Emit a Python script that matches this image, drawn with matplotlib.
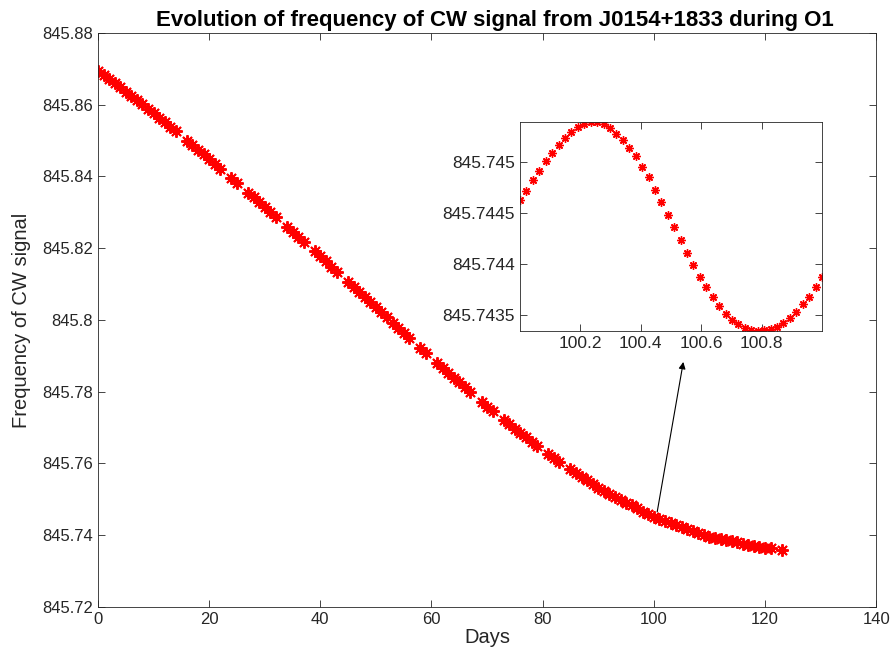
import numpy as np
import matplotlib
matplotlib.use("Agg")
import matplotlib.pyplot as plt
from matplotlib.ticker import FuncFormatter

plt.rcParams['font.family'] = ['Liberation Sans', 'DejaVu Sans']

# daily frequency, days 0..123
days = list(range(0, 124))
freq = [
    845.8695, 845.8683, 845.8671, 845.8660, 845.8648, 845.8636, 845.8624, 845.8612, 845.8601, 845.8589,
    845.8577, 845.8564, 845.8551, 845.8539, 845.8526, 845.8513, 845.8500, 845.8487, 845.8475, 845.8462,
    845.8449, 845.8436, 845.8422, 845.8409, 845.8395, 845.8382, 845.8369, 845.8355, 845.8342, 845.8328,
    845.8315, 845.8301, 845.8287, 845.8274, 845.8260, 845.8246, 845.8232, 845.8218, 845.8205, 845.8191,
    845.8177, 845.8163, 845.8149, 845.8134, 845.8120, 845.8106, 845.8092, 845.8078, 845.8063, 845.8049,
    845.8035, 845.8021, 845.8007, 845.7992, 845.7978, 845.7964, 845.7950, 845.7936, 845.7921, 845.7907,
    845.7893, 845.7880, 845.7866, 845.7853, 845.7839, 845.7826, 845.7812, 845.7799, 845.7785, 845.7772,
    845.7758, 845.7746, 845.7734, 845.7721, 845.7709, 845.7697, 845.7685, 845.7673, 845.7660, 845.7648,
    845.7636, 845.7626, 845.7615, 845.7605, 845.7594, 845.7584, 845.7574, 845.7563, 845.7553, 845.7542,
    845.7532, 845.7524, 845.7516, 845.7507, 845.7499, 845.7491, 845.7483, 845.7475, 845.7466, 845.7458,
    845.7450, 845.7445, 845.7439, 845.7434, 845.7428, 845.7423, 845.7417, 845.7412, 845.7406, 845.7401,
    845.7395, 845.7392, 845.7389, 845.7386, 845.7383, 845.7380, 845.7377, 845.7374, 845.7371, 845.7368,
    845.7365, 845.7364, 845.7362, 845.7360,
]
# days with no data (gaps in the run)
gap_days = [15, 23, 26, 33, 38, 44, 57, 60, 68, 72, 80, 84, 122]

# zoom on one day (inset)
inset_days = [
    100.000, 100.021, 100.043, 100.064, 100.085, 100.106, 100.128, 100.149, 100.170, 100.191,
    100.213, 100.234, 100.255, 100.277, 100.298, 100.319, 100.340, 100.362, 100.383, 100.404,
    100.426, 100.447, 100.468, 100.489, 100.511, 100.532, 100.553, 100.574, 100.596, 100.617,
    100.638, 100.660, 100.681, 100.702, 100.723, 100.745, 100.766, 100.787, 100.809, 100.830,
    100.851, 100.872, 100.894, 100.915, 100.936, 100.957, 100.979, 101.000,
]
inset_freq = [
    845.744624, 845.744719, 845.744824, 845.744915, 845.745013, 845.745095, 845.745173, 845.745235,
    845.745297, 845.745350, 845.745379, 845.745395, 845.745395, 845.745379, 845.745340, 845.745281,
    845.745219, 845.745141, 845.745059, 845.744954, 845.744850, 845.744725, 845.744605, 845.744480,
    845.744359, 845.744232, 845.744108, 845.743987, 845.743876, 845.743771, 845.743676, 845.743585,
    845.743510, 845.743448, 845.743405, 845.743366, 845.743350, 845.743340, 845.743350, 845.743359,
    845.743379, 845.743418, 845.743467, 845.743529, 845.743601, 845.743676, 845.743771, 845.743869,
]

d = np.array(days, dtype=float)
f = np.array(freq)
keep = ~np.isin(d, gap_days)

# matlab-like asterisk: 8 spokes
ast = (8, 2, 0)

fig = plt.figure(figsize=(8.93, 6.59), dpi=100)
ax = fig.add_axes([0.1097, 0.0789, 0.8715, 0.8711])

ax.plot(d[keep], f[keep], linestyle='none', marker=ast, color='red',
        markersize=9, markeredgewidth=1.4)
ax.set_xlim(0, 140)
ax.set_ylim(845.72, 845.88)
ax.set_xticks(range(0, 141, 20))
ax.set_yticks(np.arange(845.72, 845.8801, 0.02))

fmt = FuncFormatter(lambda v, p: f'{v:.7g}')

def matlab_style(a, fs):
    a.tick_params(direction='in', top=True, right=True, length=5, width=0.6,
                  colors='#262626', labelsize=fs)
    for s in a.spines.values():
        s.set_color('#262626')
        s.set_linewidth(0.6)

matlab_style(ax, 12)
ax.yaxis.set_major_formatter(fmt)
ax.set_xlabel('Days', fontsize=14.5, color='#262626', labelpad=1)
ax.set_ylabel('Frequency of CW signal', fontsize=14.5, color='#262626', labelpad=8)
ax.set_title('Evolution of frequency of CW signal from J0154+1833 during O1',
             fontsize=16, fontweight='bold', pad=5, x=0.51)

ax.annotate('', xy=(105.3, 845.7883), xytext=(100.6, 845.7465),
            arrowprops=dict(arrowstyle='-|>', color='black', lw=0.8,
                            mutation_scale=10, shrinkA=0, shrinkB=0))

ins = fig.add_axes([0.5823, 0.4977, 0.3382, 0.3171])
ins.plot(inset_days, inset_freq, linestyle='none', marker=ast, color='red',
         markersize=6, markeredgewidth=1.0)
ins.set_xlim(min(inset_days), max(inset_days))
ins.set_ylim(min(inset_freq), max(inset_freq))
ins.set_xticks([100.2, 100.4, 100.6, 100.8])
ins.set_yticks([845.7435, 845.744, 845.7445, 845.745])
matlab_style(ins, 12.5)
ins.yaxis.set_major_formatter(fmt)
ins.xaxis.set_major_formatter(FuncFormatter(lambda v, p: f'{v:.4g}'))

fig.savefig('out.png', dpi=100)
